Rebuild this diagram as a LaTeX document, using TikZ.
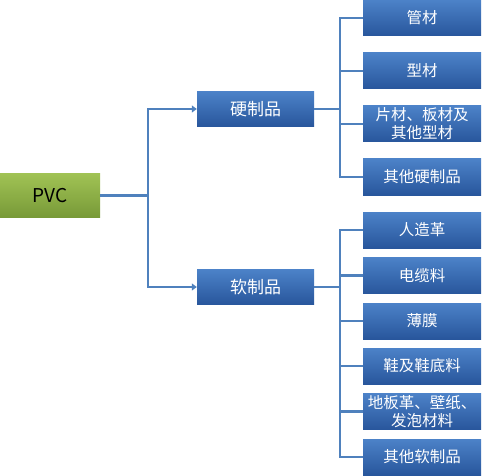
\documentclass[tikz,border=0pt]{standalone}
\usepackage{fontspec}
\setmainfont{Noto Sans CJK SC}
\usetikzlibrary{arrows.meta}
\definecolor{linkblue}{RGB}{79,129,189}
\definecolor{boxtop}{RGB}{76,130,200}
\definecolor{boxbot}{RGB}{40,86,156}
\definecolor{greentop}{RGB}{160,194,84}
\definecolor{greenbot}{RGB}{120,154,56}
\begin{document}
\begin{tikzpicture}[x=1pt,y=-1pt,
  box/.style={top color=boxtop, bottom color=boxbot, text=white, inner sep=0pt,
    minimum width=118pt, minimum height=36pt, align=center,
    font=\fontsize{15.5}{18}\selectfont},
  midbox/.style={box, minimum width=117pt, minimum height=35pt, font=\fontsize{17}{20}\selectfont},
  root/.style={top color=greentop, bottom color=greenbot, text=black, inner sep=0pt,
    minimum width=100pt, minimum height=43pt, font=\fontsize{19}{22}\selectfont},
  conn/.style={draw=linkblue, line width=2.8pt},
  tip/.style={-{Triangle[length=5pt,width=7pt]}}]
\useasboundingbox (0,0) rectangle (482,476);
% root
\node[root] (pvc) at (50,195.5) {PVC};
% second level
\node[midbox] (hard) at (255.5,109) {硬制品};
\node[midbox] (soft) at (255.5,287) {软制品};
% hard products
\node[box] (h1) at (422,18) {管材};
\node[box] (h2) at (422,71) {型材};
\node[box] (h3) at (422,124) {片材、板材及\\其他型材};
\node[box] (h4) at (422,177) {其他硬制品};
% soft products
\node[box] (s1) at (422,230) {人造革};
\node[box] (s2) at (422,275.5) {电缆料};
\node[box] (s3) at (422,321) {薄膜};
\node[box] (s4) at (422,366) {鞋及鞋底料};
\node[box] (s5) at (422,411.5) {地板革、壁纸、\\发泡材料};
\node[box] (s6) at (422,457) {其他软制品};
% connectors
\draw[conn] (pvc.east) -- (148,195.5) coordinate (j0);
\draw[conn,tip] (j0) |- (hard.west);
\draw[conn,tip] (j0) |- (soft.west);
\draw[conn] (hard.east) -- (340,109) coordinate (j1);
\foreach \n in {h1,h2,h3,h4}
  \draw[conn] (j1) |- (\n.west);
\draw[conn] (soft.east) -- (340,287) coordinate (j2);
\foreach \n in {s1,s2,s3,s4,s5,s6}
  \draw[conn] (j2) |- (\n.west);
\end{tikzpicture}
\end{document}
